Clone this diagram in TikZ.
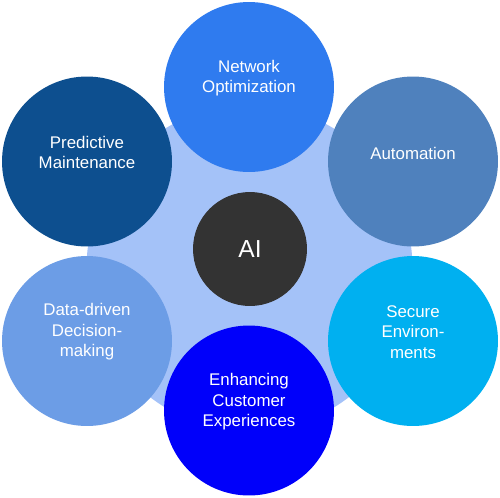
\documentclass[tikz,border=0pt]{standalone}
\usepackage{fontspec}
\setmainfont{Liberation Sans}

\definecolor{aiback}{RGB}{164,194,248}
\definecolor{aicore}{RGB}{51,51,51}
\definecolor{netblue}{RGB}{47,123,239}
\definecolor{predblue}{RGB}{13,79,143}
\definecolor{autoblue}{RGB}{79,129,189}
\definecolor{datablue}{RGB}{108,157,230}
\definecolor{secblue}{RGB}{0,176,240}
\definecolor{custblue}{RGB}{0,0,250}

\begin{document}
\begin{tikzpicture}[x=0.02cm, y=-0.02cm,
    topic/.style={circle, minimum size=3.4cm, inner sep=0pt},
    topictext/.style={text=white, align=center, font=\fontsize{9.6}{11.6}\selectfont}]
        \useasboundingbox (0,0) rectangle (500,497);

        % Background
        \node[circle, fill=aiback, minimum size=6.52cm, inner sep=0pt] (back) at (249.5,268) {};

        % Topics
        \node[topic, fill=netblue] (net) at (249,87) {};
        \node[topic, fill=predblue] (pred) at (87,161.5) {};
        \node[topic, fill=autoblue] (auto) at (413,161.5) {};
        \node[topic, fill=datablue] (data) at (87,341) {};
        \node[topic, fill=secblue] (sec) at (413,341) {};
        \node[topic, fill=custblue] (cust) at (249,410.5) {};

        % Labels
        \node[topictext] (net-text) at ([yshift=0.18cm]net.center) {Network\\Optimization};
        \node[topictext] (pred-text) at ([yshift=0.18cm]pred.center) {Predictive\\Maintenance};
        \node[topictext] (auto-text) at ([yshift=0.17cm]auto.center) {Automation};
        \node[topictext] (data-text) at ([yshift=0.18cm]data.center) {Data-driven\\Decision-\\making};
        \node[topictext] (sec-text) at ([yshift=0.18cm]sec.center) {Secure\\Environ-\\ments};
        \node[topictext] (cust-text) at ([yshift=0.17cm]cust.center) {Enhancing\\Customer\\Experiences};

        % Core
        \node[circle, fill=aicore, minimum size=2.28cm, inner sep=0pt, text=white,
              font=\fontsize{14}{16}\selectfont] (ai) at (250,249) {AI};
    \end{tikzpicture}
\end{document}
